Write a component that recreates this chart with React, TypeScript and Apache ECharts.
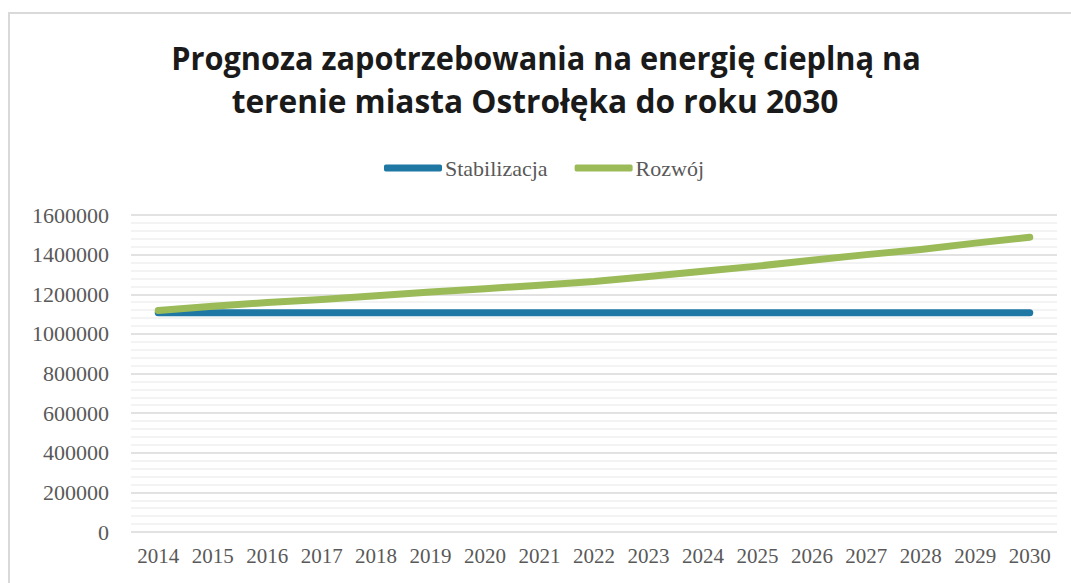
import React, { useEffect, useRef } from "react";
import * as echarts from "echarts";

const titleLines = [
  "Prognoza zapotrzebowania na energię cieplną na",
  "terenie miasta Ostrołęka do roku 2030",
];
const years = [
  "2014", "2015", "2016", "2017", "2018", "2019", "2020", "2021", "2022",
  "2023", "2024", "2025", "2026", "2027", "2028", "2029", "2030",
];
const stabilizacja = [
  1107000, 1107000, 1107000, 1107000, 1107000, 1107000, 1107000, 1107000, 1107000,
  1107000, 1107000, 1107000, 1107000, 1107000, 1107000, 1107000, 1107000,
];
const rozwoj = [
  1118000, 1140000, 1158000, 1173000, 1192000, 1211000, 1228000, 1246000, 1264000,
  1290000, 1316000, 1342000, 1372000, 1400000, 1426000, 1458000, 1488000,
];

export default function App() {
  const ref = useRef<HTMLDivElement>(null);
  useEffect(() => {
    if (!ref.current) return;
    const chart = echarts.init(ref.current, null, { renderer: "svg" });
    const serif = "'Liberation Serif', 'Times New Roman', serif";
    const titleStyle = {
      fontFamily: "'Open Sans', sans-serif",
      fontWeight: "bold",
      fontSize: 32,
      fill: "#1a1a1a",
      align: "center",
      verticalAlign: "middle",
    };
    chart.setOption({
      animation: false,
      backgroundColor: "#ffffff",
      graphic: [
        {
          type: "rect",
          shape: { x: 9, y: 13, width: 1100, height: 620 },
          style: { fill: "none", stroke: "#d9d9d9", lineWidth: 2 },
          silent: true,
        },
        {
          type: "text",
          x: 546,
          y: 57,
          scaleX: 0.96,
          style: { ...titleStyle, text: titleLines[0] },
        },
        {
          type: "text",
          x: 535,
          y: 100,
          scaleX: 0.99,
          style: { ...titleStyle, text: titleLines[1] },
        },
      ],
      legend: {
        top: 152,
        left: 379,
        icon: "roundRect",
        itemWidth: 58,
        itemHeight: 7,
        itemGap: 27,
        textStyle: {
          fontFamily: serif,
          fontSize: 22,
          color: "#595959",
          padding: [0, 0, 0, -2],
        },
        data: ["Stabilizacja", "Rozwój"],
      },
      grid: { left: 131, right: 14, top: 215, bottom: 51 },
      xAxis: {
        type: "category",
        data: years,
        boundaryGap: true,
        axisLine: { show: false },
        axisTick: { show: false },
        axisLabel: {
          margin: 13,
          fontFamily: serif,
          fontSize: 21,
          color: "#595959",
          interval: 0,
        },
      },
      yAxis: {
        type: "value",
        min: 0,
        max: 1600000,
        interval: 200000,
        axisLine: { show: false },
        axisTick: { show: false },
        axisLabel: {
          margin: 22,
          fontFamily: serif,
          fontSize: 22,
          color: "#595959",
          formatter: (v: number) => String(v),
        },
        splitLine: { lineStyle: { color: "#d9d9d9", width: 1.5 } },
        minorTick: { show: false, splitNumber: 5 },
        minorSplitLine: { show: true, lineStyle: { color: "#efefef", width: 1.5 } },
      },
      series: [
        {
          name: "Stabilizacja",
          type: "line",
          data: stabilizacja,
          symbol: "none",
          color: "#1f78a4",
          lineStyle: { width: 7, cap: "round", join: "round" },
        },
        {
          name: "Rozwój",
          type: "line",
          data: rozwoj,
          symbol: "none",
          color: "#9bbb59",
          lineStyle: { width: 7, cap: "round", join: "round" },
        },
      ],
    });
    return () => chart.dispose();
  }, []);
  return (
    <div
      ref={ref}
      style={{ position: "absolute", left: 0, top: 0, width: 1071, height: 583 }}
    />
  );
}
